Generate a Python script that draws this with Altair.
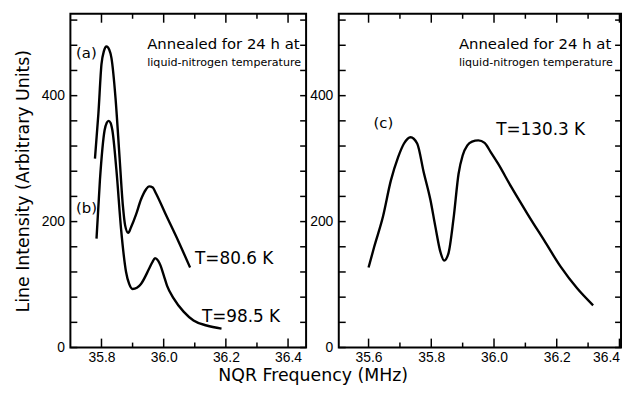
import altair as alt
import pandas as pd

# ---------------- data ----------------
# (a) T = 80.6 K
freq_a = [35.779, 35.790, 35.800, 35.808, 35.816, 35.825, 35.832, 35.845, 35.858, 35.869,
          35.876, 35.886, 35.895, 35.911, 35.927, 35.943, 35.953, 35.965, 35.975, 36.006,
          36.048, 36.085]
int_a = [300, 371, 450, 471, 478, 473, 460, 397, 303, 224,
         194, 182, 191, 211, 235, 251, 256, 254, 245, 212,
         168, 127]

# (b) T = 98.5 K
freq_b = [35.784, 35.795, 35.810, 35.817, 35.823, 35.829, 35.835, 35.848, 35.863, 35.879,
          35.889, 35.900, 35.914, 35.927, 35.953, 35.963, 35.972, 35.982, 35.990, 36.000,
          36.011, 36.032, 36.064, 36.096, 36.138, 36.186]
int_b = [173, 266, 345, 357, 360, 357, 345, 282, 188, 120,
         101, 93, 95, 101, 125, 135, 142, 138, 130, 115,
         98, 78, 57, 43, 35, 30]

# (c) T = 130.3 K
freq_c = [35.600, 35.618, 35.646, 35.671, 35.694, 35.713, 35.734, 35.755, 35.776, 35.797,
          35.813, 35.829, 35.841, 35.855, 35.871, 35.887, 35.900, 35.915, 35.930, 35.950,
          35.970, 35.990, 36.013, 36.055, 36.107, 36.160, 36.213, 36.265, 36.316]
int_c = [127, 160, 208, 265, 302, 324, 334, 324, 278, 235,
         192, 152, 138, 150, 205, 276, 305, 321, 327, 329,
         325, 310, 292, 255, 212, 170, 128, 94, 67]

left_x_major = [35.8, 36.0, 36.2, 36.4]
left_x_minor = [35.9, 36.1, 36.3]
right_x_major = [35.6, 35.8, 36.0, 36.2, 36.4]
right_x_minor = [35.7, 35.9, 36.1, 36.3]
y_ticks = [0, 40, 80, 120, 160, 200, 240, 280, 320, 360, 400, 440, 480, 520]
y_labels = [0, 200, 400]

letters_left = ["(a)", "(b)"]
letters_left_freq = [35.718, 35.718]
letters_left_int = [467, 222]
letters_right = ["(c)"]
letters_right_freq = [35.616]
letters_right_int = [357]

temps_left = ["T=80.6 K", "T=98.5 K"]
temps_left_freq = [36.101, 36.123]
temps_left_int = [140, 49]
temps_right = ["T=130.3 K"]
temps_right_freq = [36.007]
temps_right_int = [345]

note_line1 = "Annealed for 24 h at"
note_line2 = "liquid-nitrogen temperature"
note_freq_left = 35.947
note_freq_right = 35.888
note_int = [482, 452]

# ---------------- chart ----------------
LABEL_FONT = "Liberation Sans"
TEXT_FONT = "DejaVu Sans"
H = 337
Y_DOMAIN = [0, 530]


def curves_df(pairs):
    rows = []
    for name, fr, it in pairs:
        for f, v in zip(fr, it):
            rows.append({"curve": name, "freq": f, "intensity": v})
    return pd.DataFrame(rows)


def text_df(labels, fr, it):
    return pd.DataFrame({"label": labels, "freq": fr, "intensity": it})


def panel(curves, xdom, W, majors, minors, letters, temps, note_freq, ytitle):
    xs = alt.Scale(domain=xdom, nice=False, zero=False)
    ys = alt.Scale(domain=Y_DOMAIN, nice=False, zero=False)

    yaxis_kw = dict(values=y_labels, ticks=False, domain=False, grid=False,
                    labelPadding=6, labelFont=LABEL_FONT, labelFontSize=14,
                    labelColor="black", orient="left")
    if ytitle:
        yaxis = alt.Axis(title=ytitle, titleFont=TEXT_FONT, titleFontSize=17.5,
                         titleFontWeight="normal", titleColor="black", titlePadding=9,
                         **yaxis_kw)
    else:
        yaxis = alt.Axis(title=None, **yaxis_kw)

    line = alt.Chart(curves).mark_line(color="black", strokeWidth=2.4,
                                       interpolate="monotone").encode(
        x=alt.X("freq:Q", scale=xs,
                axis=alt.Axis(values=majors, format=".1f", ticks=False, domain=False,
                              grid=False, labelPadding=3, labelFont=LABEL_FONT,
                              labelFontSize=14, labelColor="black", title=None,
                              orient="bottom", labelFlush=3)),
        y=alt.Y("intensity:Q", scale=ys, axis=yaxis),
        detail="curve:N",
        order="freq:Q",
    )

    def xt(vals, length, side):
        df = pd.DataFrame({"freq": vals})
        if side == "bottom":
            yy, yy2 = alt.value(H), alt.value(H - length)
        else:
            yy, yy2 = alt.value(0), alt.value(length)
        return alt.Chart(df).mark_rule(color="black", strokeWidth=1.5).encode(
            x=alt.X("freq:Q", scale=xs, axis=None), y=yy, y2=yy2)

    def yt(length, side):
        df = pd.DataFrame({"intensity": y_ticks})
        if side == "left":
            xx, xx2 = alt.value(0), alt.value(length)
        else:
            xx, xx2 = alt.value(W), alt.value(W - length)
        return alt.Chart(df).mark_rule(color="black", strokeWidth=1.5).encode(
            y=alt.Y("intensity:Q", scale=ys, axis=None), x=xx, x2=xx2)

    def txt(df, size):
        return alt.Chart(df).mark_text(align="left", baseline="middle", font=TEXT_FONT,
                                       fontSize=size, color="black").encode(
            x=alt.X("freq:Q", scale=xs, axis=None),
            y=alt.Y("intensity:Q", scale=ys, axis=None),
            text="label:N",
        )

    notes1 = text_df([note_line1], [note_freq], [note_int[0]])
    notes2 = text_df([note_line2], [note_freq], [note_int[1]])

    layers = [
        line,
        xt(majors, 9, "bottom"), xt(minors, 5, "bottom"),
        xt(majors, 9, "top"), xt(minors, 5, "top"),
        yt(7, "left"), yt(6, "right"),
        txt(letters, 15), txt(temps, 17), txt(notes1, 15), txt(notes2, 11.2),
    ]
    return alt.layer(*layers).resolve_axis(x="independent", y="independent").properties(
        width=W, height=H)


left_curves = curves_df([("a", freq_a, int_a), ("b", freq_b, int_b)])
right_curves = curves_df([("c", freq_c, int_c)])

left = panel(left_curves, [35.70, 36.458], 238, left_x_major, left_x_minor,
             text_df(letters_left, letters_left_freq, letters_left_int),
             text_df(temps_left, temps_left_freq, temps_left_int),
             note_freq_left, "Line Intensity (Arbitrary Units)")
right = panel(right_curves, [35.505, 36.405], 285, right_x_major, right_x_minor,
              text_df(letters_right, letters_right_freq, letters_right_int),
              text_df(temps_right, temps_right_freq, temps_right_int),
              note_freq_right, None)

chart = alt.hconcat(left, right, spacing=0).properties(
    title=alt.TitleParams(text="NQR Frequency (MHz)", orient="bottom", anchor="middle",
                          dx=-5, fontSize=17.5, font=TEXT_FONT, fontWeight="normal",
                          color="black", offset=2),
    padding={"left": 5, "top": 2, "right": 0, "bottom": 0},
).configure_view(stroke="black", strokeWidth=2)

chart.save("out.html", embed_options={"renderer": "svg", "actions": False})
